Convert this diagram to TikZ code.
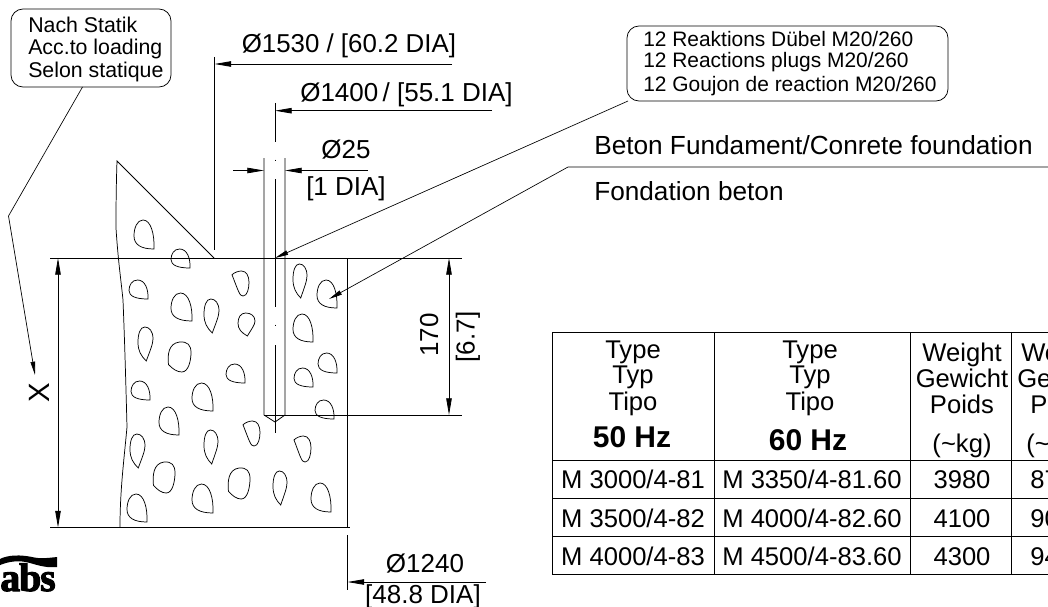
\documentclass[tikz,border=0pt]{standalone}
\usepackage{fontspec}
\setmainfont{Liberation Sans}
\newfontfamily\logofont[BoldFeatures={FakeBold=2.5},LetterSpace=-3]{Liberation Serif}
\usetikzlibrary{arrows.meta}
\tikzset{
  x=0.75pt,y=-0.75pt,
  ln/.style={line width=0.6pt,black},
  dimline/.style={line width=0.6pt,black,-{Triangle[length=12.5pt,width=4.1pt]}},
  lead/.style={line width=0.5pt,black,-{Triangle[length=10pt,width=3.4pt]}},
  blobline/.style={line width=0.55pt,black},
  callout/.style={draw,line width=0.55pt,rounded corners=9pt,inner sep=0pt},
  txt/.style={anchor=base,inner sep=0pt,font=\fontsize{19.5pt}{20pt}\selectfont},
  txtw/.style={txt,anchor=base west},
  cell/.style={anchor=base,inner sep=0pt,font=\fontsize{19.2pt}{20pt}\selectfont},
  cellw/.style={cell,anchor=base west},
  hz/.style={anchor=base,inner sep=0pt,font=\fontsize{22.5pt}{23pt}\selectfont\bfseries},
  small/.style={anchor=base west,inner sep=0pt,font=\fontsize{15.7pt}{16pt}\selectfont},
  smallb/.style={anchor=base west,inner sep=0pt,font=\fontsize{16pt}{17pt}\selectfont},
}
\newcommand{\blobA}[4]{\draw[blobline,shift={(#1,#2)},xscale=#3,yscale=#4]
  (1,1) .. controls (1.03,0.5) and (0.85,0) .. (0.45,0) .. controls (0.15,0) and (0,0.28) .. (0,0.55) .. controls (0,0.85) and (0.35,1) .. (1,1) -- cycle;}
\newcommand{\blobB}[4]{\draw[blobline,shift={(#1,#2)},xscale=#3,yscale=#4]
  (0.55,1) .. controls (0.8,0.7) and (1,0.5) .. (1,0.35) .. controls (1,0.12) and (0.75,0) .. (0.45,0) .. controls (0.15,0) and (0,0.2) .. (0,0.45) .. controls (0,0.7) and (0.2,0.85) .. (0.55,1) -- cycle;}
\newcommand{\blobC}[4]{\draw[blobline,shift={(#1,#2)},xscale=#3,yscale=#4]
  (0.02,0.75) .. controls (-0.02,0.45) and (0,0.05) .. (0.5,0) .. controls (0.85,-0.02) and (1,0.1) .. (1,0.35) .. controls (1,0.6) and (0.9,1) .. (0.6,1) .. controls (0.4,1) and (0.2,0.9) .. (0.02,0.75) -- cycle;}
\newcommand{\blobD}[4]{\draw[blobline,shift={(#1,#2)},xscale=#3,yscale=#4]
  (0,0.15) .. controls (0.15,0.05) and (0.4,0) .. (0.55,0) .. controls (0.85,0) and (1,0.2) .. (1,0.45) .. controls (1,0.7) and (0.9,1) .. (0.65,1) .. controls (0.45,1) and (0.4,0.85) .. (0,0.15) -- cycle;}
\begin{document}
\begin{tikzpicture}
\useasboundingbox (0,0) rectangle (1048,606);
\clip (0,0) rectangle (1048,606);

% --- concrete outline
\draw[ln,line width=0.55pt] (214,258) -- (117,161) .. controls (116,190) and (116,215) .. (116,228) .. controls (118,260) and (121,280) .. (123,300) .. controls (125,350) and (126,390) .. (127,427) .. controls (124,460) and (120,490) .. (120,527);

% --- named points
\coordinate (gl) at (50,258);   \coordinate (gr) at (462,258);
\coordinate (bl) at (50,527.5); \coordinate (br) at (350,527.5);
\coordinate (edgeT) at (347.5,258); \coordinate (edgeB) at (347.5,527.5);
\draw[ln] (gl) -- (gr);
\draw[ln] (bl) -- (br);
\draw[ln] (edgeT) -- (edgeB);

% --- X dimension
\coordinate (xT) at (58,258); \coordinate (xB) at (58,527.5); \coordinate (xM) at (58,390);
\draw[dimline] (xM) -- (xT);
\draw[dimline] (xM) -- (xB);
\node[txt,rotate=90,font=\fontsize{22pt}{22pt}\selectfont] (xlab) at (49.5,393) {X};

% --- plug
\coordinate (pl1) at (264,158); \coordinate (pl2) at (264,415);
\coordinate (pr1) at (285,158); \coordinate (pr2) at (285,415);
\coordinate (ptip) at (275,422);
\draw[ln] (pl1) -- (pl2) -- (ptip) -- (pr2) -- (pr1);
\coordinate (holeR) at (462,415);
\draw[ln] (pl2) -- (holeR);
% centre line
\coordinate (c0) at (275,103); \coordinate (c1) at (275,142);
\coordinate (c2) at (275,179); \coordinate (c3) at (275,307);
\coordinate (c4) at (275,345); \coordinate (c5) at (275,433);
\draw[ln,line width=0.5pt] (c0) -- (c1) (c2) -- (c3) (c4) -- (c5);
\draw[ln,line width=0.4pt] (275,159.5) -- (275,161) (275,324.5) -- (275,326);

% --- dimension 170
\coordinate (dT) at (449,258); \coordinate (dB) at (449,415); \coordinate (dM) at (449,335);
\draw[dimline] (dM) -- (dT);
\draw[dimline] (dM) -- (dB);
\node[txt,rotate=90] (d170) at (438,335) {170};
\node[txt,rotate=90] (d67) at (474.5,337) {[6.7]};

% --- O25
\coordinate (a25l) at (233,170.5); \coordinate (a25r) at (368,170.5);
\draw[dimline] (a25l) -- (pl1 |- a25l);
\draw[dimline] (a25r) -- (pr1 |- a25r);
\node[txt] (o25) at (346,158) {Ø25};
\node[txt] (dia1) at (346,195) {[1 DIA]};

% --- O1400
\coordinate (e14T) at (275,100); \coordinate (e14R) at (492,110.7);
\draw[dimline] (e14R) -- (e14T |- e14R);
\node[txtw] (o1400) at (300,102) {Ø1400\,/ [55.1 DIA]};

% --- O1530
\coordinate (e15T) at (214.5,57); \coordinate (e15B) at (214.5,250);
\coordinate (e15R) at (452,64);
\draw[ln] (e15T) -- (e15B);
\draw[dimline] (e15R) -- (e15T |- e15R);
\node[txtw,font=\fontsize{19.4pt}{20pt}\selectfont] (o1530) at (241.5,53) {Ø1530 / [60.2 DIA]};

% --- O1240
\coordinate (e12T) at (347.5,535); \coordinate (e12B) at (347.5,590);
\coordinate (e12R) at (486,582);
\draw[ln] (e12T) -- (e12B);
\draw[dimline] (e12R) -- (e12T |- e12R);
\node[txt] (o1240) at (425,572) {Ø1240};
\node[txt] (dia48) at (423,603) {[48.8 DIA]};

% --- callout left
\node[callout,minimum width=120pt,minimum height=58.5pt] (box1) at (91,48) {};
\node[smallb] (b1a) at (28,33) {Nach Statik};
\node[smallb] (b1b) at (28,55) {Acc.to loading};
\node[smallb] (b1c) at (28,78) {Selon statique};
\coordinate (b1s) at (82.5,87); \coordinate (b1k) at (8.5,216); \coordinate (b1e) at (35,375);
\draw[lead] (b1s) -- (b1k) -- (b1e);

% --- callout right
\node[callout,minimum width=240.75pt,minimum height=56.25pt] (box2) at (787.5,63.5) {};
\node[small] (b2a) at (643,47) {12 Reaktions Dübel M20/260};
\node[small] (b2b) at (643,68) {12 Reactions plugs M20/260};
\node[small] (b2c) at (643,92) {12 Goujon de reaction M20/260};
\coordinate (b2s) at (628,101); \coordinate (b2e) at (275,258);
\draw[lead] (b2s) -- (b2e);

% --- foundation label
\node[txtw,font=\fontsize{19.65pt}{20pt}\selectfont] (f1) at (594,155) {Beton Fundament/Conrete foundation};
\node[txtw,font=\fontsize{19.65pt}{20pt}\selectfont] (f2) at (594,200) {Fondation beton};
\coordinate (fr) at (1048,167); \coordinate (fk) at (568,167); \coordinate (fe) at (329,299);
\draw[lead] (fr) -- (fk) -- (fe);

% --- blobs
\blobA{134}{220}{20}{29}
\blobA{171}{249}{19}{19}
\blobD{232}{271}{17}{25}
\blobB{293}{264}{14}{34}
\blobA{317}{280}{20}{28}
\blobA{129}{280}{19}{19}
\blobA{171}{293}{21}{28}
\blobB{204}{299}{15}{34}
\blobB{238}{313}{17}{23}
\blobA{293}{314}{20}{28}
\blobB{138}{327}{15}{34}
\blobC{168}{342}{23}{30}
\blobA{226}{364}{19}{19}
\blobA{318}{353}{19}{20}
\blobA{294}{368}{19}{19}
\blobA{131}{381}{19}{19}
\blobA{192}{383}{21}{28}
\blobA{159}{407}{20}{28}
\blobA{315}{400}{19}{19}
\blobD{243}{421}{17}{25}
\blobD{294}{436}{17}{26}
\blobB{130}{434}{15}{34}
\blobB{204}{430}{14}{34}
\blobC{153}{462}{22}{31}
\blobC{228}{468}{22}{31}
\blobB{273}{471}{14}{34}
\blobA{192}{484}{21}{29}
\blobA{311}{483}{20}{29}
\blobA{127}{494}{20}{28}

% --- table
\draw[ln,line width=0.7pt] (552.5,574.5) -- (552.5,332) -- (1048,332);
\draw[ln,line width=0.7pt] (552.5,460) -- (1048,460);
\draw[ln,line width=0.7pt] (552.5,498) -- (1048,498);
\draw[ln,line width=0.7pt] (552.5,536.5) -- (1048,536.5);
\draw[ln,line width=0.8pt] (552.5,574.5) -- (1048,574.5);
\draw[ln,line width=0.7pt] (714,332) -- (714,574.5);
\draw[ln,line width=0.7pt] (910.7,332) -- (910.7,574.5);
\draw[ln,line width=0.7pt] (1011.5,332) -- (1011.5,574.5);

\node[cell] (t1a) at (633,358) {Type};
\node[cell] (t1b) at (633,383) {Typ};
\node[cell] (t1c) at (633,410) {Tipo};
\node[hz] (t1d) at (632,447) {50 Hz};
\node[cell] (t2a) at (810,358) {Type};
\node[cell] (t2b) at (810,383) {Typ};
\node[cell] (t2c) at (810,410) {Tipo};
\node[hz] (t2d) at (808,450) {60 Hz};
\node[cell] (t3a) at (962,361) {Weight};
\node[cell] (t3b) at (962,387) {Gewicht};
\node[cell] (t3c) at (962,413) {Poids};
\node[cell] (t3d) at (962,452) {(\textasciitilde kg)};
\node[cellw] (t4a) at (1021,361) {We};
\node[cellw] (t4b) at (1017,387) {Ge};
\node[cellw] (t4c) at (1030,413) {P};
\node[cellw] (t4d) at (1026,452) {(\textasciitilde};

\node[cell] (r1a) at (633,488) {M 3000/4-81};
\node[cell] (r1b) at (812,488) {M 3350/4-81.60};
\node[cell] (r1c) at (962,488) {3980};
\node[cellw] (r1d) at (1030,488) {87};
\node[cell] (r2a) at (633,527) {M 3500/4-82};
\node[cell] (r2b) at (812,527) {M 4000/4-82.60};
\node[cell] (r2c) at (962,527) {4100};
\node[cellw] (r2d) at (1030,527) {90};
\node[cell] (r3a) at (633,565) {M 4000/4-83};
\node[cell] (r3b) at (812,565) {M 4500/4-83.60};
\node[cell] (r3c) at (962,565) {4300};
\node[cellw] (r3d) at (1030,565) {94};

% --- logo
\fill (-2,560) .. controls (8,554) and (22,555) .. (32,557) .. controls (40,559) and (48,558) .. (57,557) -- (57,567) .. controls (48,568) and (40,566) .. (30,563) .. controls (20,560) and (8,561) .. (-2,566) -- cycle;
\node[anchor=base west,inner sep=0pt,font=\fontsize{30pt}{30pt}\logofont\bfseries] (logo) at (0,591) {abs};
\end{tikzpicture}
\end{document}
